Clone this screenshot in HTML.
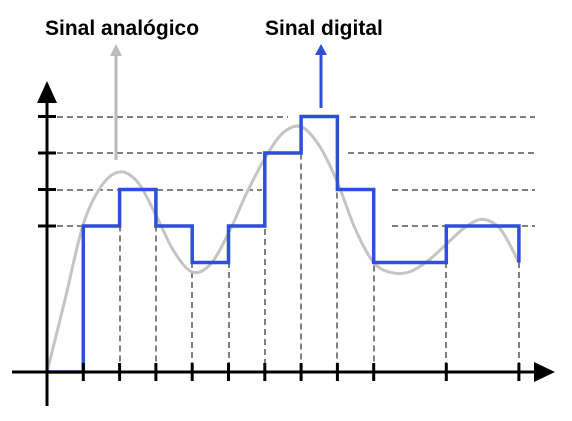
<!DOCTYPE html>
<html><head><meta charset="utf-8"><style>
html,body{margin:0;padding:0;background:#fff;}
svg{display:block;font-family:"Liberation Sans",sans-serif;}
</style></head><body>
<svg id="chart" width="572" height="421" viewBox="0 0 572 421">
<g id="grid" shape-rendering="crispEdges"></g>
<g id="analog"></g>
<g id="digital"></g>
<g>
<line x1="12" y1="372" x2="540" y2="372" stroke="#000" stroke-width="3"/>
<polygon points="534,362 555,372 534,382" fill="#000"/>
<line x1="47" y1="406" x2="47" y2="100" stroke="#000" stroke-width="3"/>
<polygon points="37,103 47,81 57,103" fill="#000"/>
</g>
<g id="ticks"></g>
<line x1="116" y1="160" x2="116" y2="55" stroke="#bbb" stroke-width="3"/>
<polygon points="110,56 116,44 122,56" fill="#bbb"/>
<line x1="321" y1="108" x2="321" y2="54" stroke="#2e4fd6" stroke-width="3"/>
<polygon points="315,55 321,44 327,55" fill="#2e4fd6"/>
<text x="45" y="35" font-size="21" font-weight="bold" fill="#000">Sinal analógico</text>
<text x="265" y="35" font-size="21" font-weight="bold" fill="#000">Sinal digital</text>
</svg>
<script>
const digitalLevels=[0,4,5,4,3,4,6,7,5,3,3,4,4];
const sampleTicks=[1,2,3,4,5,6,7,8,9,11,13];
const tickLevels=[4,5,6,7];
const analogX=[0,0.5,1,1.5,2,2.5,3,3.5,4,4.5,5,5.5,6,6.5,7,7.5,8,8.5,9,9.5,10,10.5,11,11.5,12,12.5,13];
const analogY=[0,2.0,4.05,5.1,5.48,5.2,4.3,3.3,2.74,2.95,3.8,4.9,5.85,6.55,6.72,6.2,5.2,3.9,3.0,2.72,2.75,3.05,3.5,3.95,4.18,3.9,3.0];
const NS="http://www.w3.org/2000/svg";
const X=i=>47+i*36.3, Y=v=>372-v*36.5;
const grid=document.getElementById('grid');
const ticksG=document.getElementById('ticks');
function hSegs(l){
  if(l===4) return [[47,X(1)],[392,535]];
  if(l===5) return [[47,262],[392,535]];
  if(l===6) return [[47,262],[348,535]];
  return [[47,288],[350,535]];
}
tickLevels.forEach(l=>{
  hSegs(l).forEach(s=>{
    const e=document.createElementNS(NS,'line');
    e.setAttribute('x1',s[0]);e.setAttribute('x2',s[1]);e.setAttribute('y1',Math.round(Y(l)));e.setAttribute('y2',Math.round(Y(l)));
    e.setAttribute('stroke','#000');e.setAttribute('stroke-dasharray','6,4');
    
    
    grid.appendChild(e);
  });
  const t=document.createElementNS(NS,'line');
  t.setAttribute('x1',38);t.setAttribute('x2',56);t.setAttribute('y1',Y(l));t.setAttribute('y2',Y(l));
  t.setAttribute('stroke','#000');t.setAttribute('stroke-width','3');
  
  
  ticksG.appendChild(t);
});
sampleTicks.forEach(i=>{
  const lv=i<13?Math.max(digitalLevels[i],digitalLevels[i-1]):digitalLevels[12];
  const top=(i===1)?Y(4):Y(lv)+(i===7?17:6);
  if(i>1){
    const e=document.createElementNS(NS,'line');
    e.setAttribute('x1',Math.round(X(i)));e.setAttribute('x2',Math.round(X(i)));e.setAttribute('y1',top);e.setAttribute('y2',372);
    e.setAttribute('stroke','#000');e.setAttribute('stroke-dasharray','6,4');
    
    
    grid.appendChild(e);
  }
  const t=document.createElementNS(NS,'line');
  t.setAttribute('x1',X(i));t.setAttribute('x2',X(i));t.setAttribute('y1',363);t.setAttribute('y2',381);
  t.setAttribute('stroke','#000');t.setAttribute('stroke-width','3');
  
  
  ticksG.appendChild(t);
});
const pts=analogX.map((x,i)=>[X(x),Y(analogY[i])]);
let d=`M${pts[0][0]},${pts[0][1]}`;
for(let i=0;i<pts.length-1;i++){const p0=pts[Math.max(0,i-1)],p1=pts[i],p2=pts[i+1],p3=pts[Math.min(pts.length-1,i+2)];
d+=` C${p1[0]+(p2[0]-p0[0])/6},${p1[1]+(p2[1]-p0[1])/6} ${p2[0]-(p3[0]-p1[0])/6},${p2[1]-(p3[1]-p1[1])/6} ${p2[0]},${p2[1]}`;}
const a=document.createElementNS(NS,'path');
a.setAttribute('d',d);a.setAttribute('fill','none');a.setAttribute('stroke','#c4c4c4');a.setAttribute('stroke-width','3');


document.getElementById('analog').appendChild(a);
let dd=`M${X(0)},${Y(digitalLevels[0])}`;
digitalLevels.forEach((l,i)=>{dd+=` L${X(i)},${Y(l)} L${X(i+1)},${Y(l)}`;});
dd+=` L${X(13)},${Y(3)}`;
const g=document.createElementNS(NS,'path');
g.setAttribute('d',dd);g.setAttribute('fill','none');g.setAttribute('stroke','#2e4fd6');g.setAttribute('stroke-width','3.5');


document.getElementById('digital').appendChild(g);
</script>
</body></html>
